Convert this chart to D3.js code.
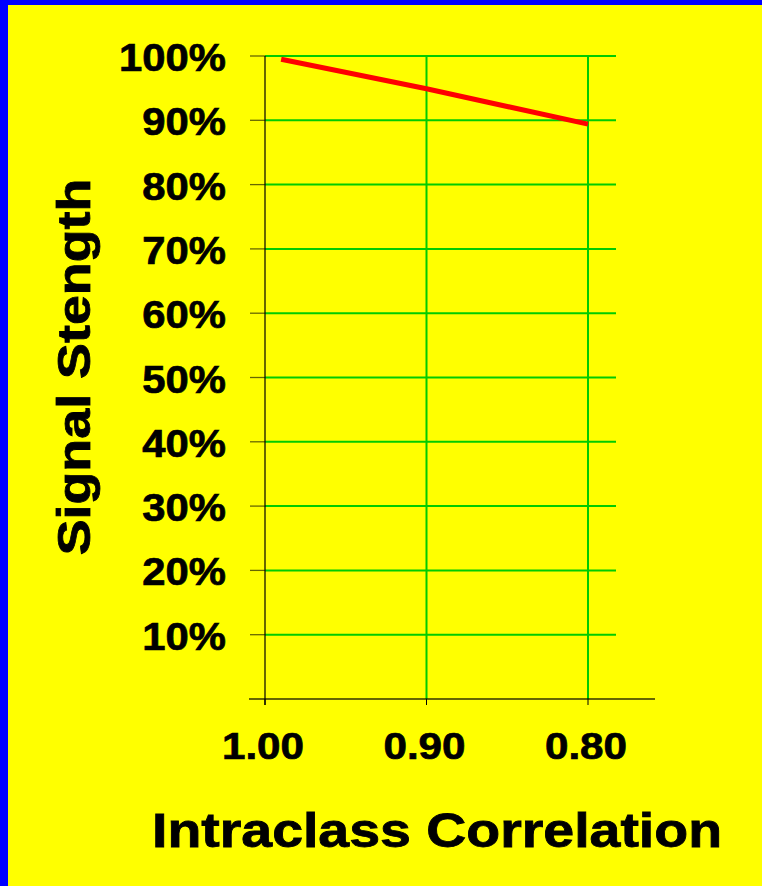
<!DOCTYPE html>
<html>
<head>
<meta charset="utf-8">
<script src="https://cdn.jsdelivr.net/npm/d3@7"></script>
<style>
  html, body { margin: 0; padding: 0; background: #ffff00; }
  svg { display: block; }
  text { font-family: "Liberation Sans", Arial, sans-serif; font-weight: bold; fill: #000; }
</style>
</head>
<body>
<script>
// ---- data ----
const xTicks = [1.00, 0.90, 0.80];
const xTickLabels = ["1.00", "0.90", "0.80"];
const yTicks = [10, 20, 30, 40, 50, 60, 70, 80, 90, 100];
const yTickLabels = ["10%", "20%", "30%", "40%", "50%", "60%", "70%", "80%", "90%", "100%"];
const iccValues = [0.99, 0.90, 0.80];
const signalValues = [99.5, 94.9, 89.4];
const xTitle = "Intraclass Correlation";
const yTitle = "Signal Stength";

// ---- layout ----
const W = 762, H = 886;
const svg = d3.select("body").append("svg").attr("width", W).attr("height", H);

svg.append("rect").attr("width", W).attr("height", H).attr("fill", "#0000ff");
svg.append("rect").attr("x", 8).attr("y", 5).attr("width", W - 8).attr("height", H - 5).attr("fill", "#ffff00");

const x = d3.scaleLinear().domain([1.0, 0.8]).range([265, 588]);
const y = d3.scaleLinear().domain([0, 100]).range([699, 56]);
const gridRight = 616, axisLeft = 250, axisRight = 655;

// horizontal gridlines
svg.append("g").selectAll("line").data(yTicks).join("line")
  .attr("x1", x(1.0)).attr("x2", gridRight)
  .attr("y1", d => y(d)).attr("y2", d => y(d))
  .attr("stroke", "#00cc00").attr("stroke-width", 2);

// vertical gridlines
svg.append("g").selectAll("line").data(xTicks.filter(d => d !== 1.0)).join("line")
  .attr("x1", d => x(d)).attr("x2", d => x(d))
  .attr("y1", y(100)).attr("y2", y(0))
  .attr("stroke", "#00cc00").attr("stroke-width", 2);

// y-axis ticks (left)
svg.append("g").selectAll("line").data(yTicks).join("line")
  .attr("x1", axisLeft).attr("x2", x(1.0))
  .attr("y1", d => y(d)).attr("y2", d => y(d))
  .attr("stroke", "rgba(0,0,0,0.6)").attr("stroke-width", 1.3);

// x-axis baseline
svg.append("line")
  .attr("x1", axisLeft - 1).attr("x2", axisRight)
  .attr("y1", y(0)).attr("y2", y(0))
  .attr("stroke", "rgba(0,0,0,0.6)").attr("stroke-width", 2);

// x ticks
svg.append("g").selectAll("line").data(xTicks).join("line")
  .attr("x1", d => x(d)).attr("x2", d => x(d))
  .attr("y1", y(0)).attr("y2", y(0) + 6)
  .attr("stroke", "#000").attr("stroke-width", 1);

// y-axis line
svg.append("line")
  .attr("x1", x(1.0)).attr("x2", x(1.0))
  .attr("y1", y(100)).attr("y2", y(0) + 6)
  .attr("stroke", "#000").attr("stroke-width", 1.2);

// data line
const line = d3.line().x((d, i) => x(iccValues[i])).y(d => y(d));
svg.append("path").datum(signalValues)
  .attr("d", line)
  .attr("fill", "none").attr("stroke", "#ff0000").attr("stroke-width", 5);

function stretch(sel, factor) {
  sel.each(function() {
    const w = this.getComputedTextLength();
    d3.select(this).attr("textLength", w * factor).attr("lengthAdjust", "spacingAndGlyphs");
  });
}

// y tick labels
const yl = svg.append("g").selectAll("text").data(yTicks).join("text")
  .attr("x", 226).attr("y", d => y(d) + 15)
  .attr("text-anchor", "end")
  .attr("font-size", 38)
  .attr("stroke", "#000").attr("stroke-width", 0.7)
  .text((d, i) => yTickLabels[i]);
stretch(yl, 1.1);

// x tick labels
const xl = svg.append("g").selectAll("text").data(xTicks).join("text")
  .attr("x", d => x(d) - 2).attr("y", 759)
  .attr("text-anchor", "middle")
  .attr("font-size", 37)
  .attr("stroke", "#000").attr("stroke-width", 0.7)
  .text((d, i) => xTickLabels[i]);
stretch(xl, 1.14);

// x title
const xt = svg.append("text")
  .attr("x", 437).attr("y", 847)
  .attr("text-anchor", "middle")
  .attr("font-size", 48)
  .attr("stroke", "#000").attr("stroke-width", 0.8)
  .text(xTitle);
stretch(xt, 1.155);

// y title
const yt = svg.append("text")
  .attr("transform", "translate(90,367) rotate(-90)")
  .attr("text-anchor", "middle")
  .attr("font-size", 46)
  .attr("stroke", "#000").attr("stroke-width", 0.8)
  .text(yTitle);
stretch(yt, 1.17);
</script>
</body>
</html>
